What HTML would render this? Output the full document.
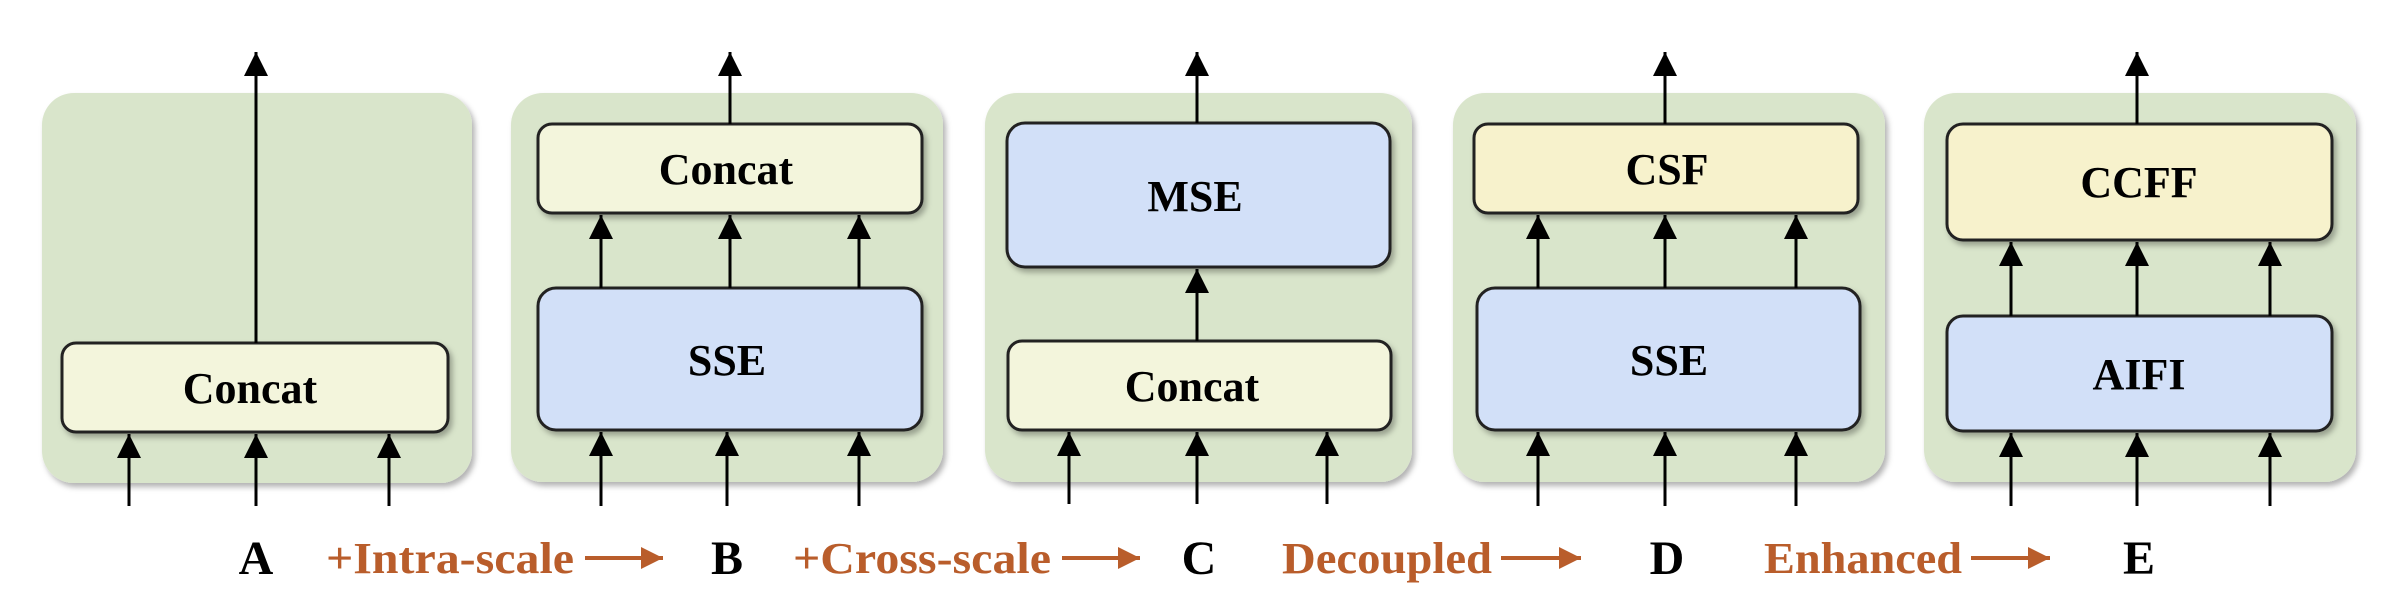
<!DOCTYPE html>
<html><head><meta charset="utf-8"><style>
html,body{margin:0;padding:0;background:#fff;width:2390px;height:608px;overflow:hidden}
text{font-family:"Liberation Serif",serif;font-weight:bold}
</style></head><body>
<svg width="2390" height="608" viewBox="0 0 2390 608" xmlns="http://www.w3.org/2000/svg">
<defs>
<marker id="ah" viewBox="0 0 10 10" refX="10" refY="5" markerWidth="24" markerHeight="24" markerUnits="userSpaceOnUse" orient="auto"><path d="M0,0 L10,5 L0,10 z" fill="#000"/></marker>
<marker id="oh" viewBox="0 0 10 10" refX="10" refY="5" markerWidth="22" markerHeight="22" markerUnits="userSpaceOnUse" orient="auto"><path d="M0,0 L10,5 L0,10 z" fill="#b95d2b"/></marker>
<filter id="sh" x="-10%" y="-10%" width="125%" height="125%"><feDropShadow dx="3" dy="4" stdDeviation="3" flood-color="#000" flood-opacity="0.3"/></filter>
</defs>
<g fill="#d9e5cb" filter="url(#sh)">
<rect x="42" y="93" width="430" height="390" rx="32"/>
<rect x="511" y="93" width="432" height="389" rx="32"/>
<rect x="985" y="93" width="427" height="389" rx="32"/>
<rect x="1453" y="93" width="432" height="389" rx="32"/>
<rect x="1924" y="93" width="432" height="389" rx="32"/>
</g>
<g stroke="#222" stroke-width="3" filter="url(#sh)">
<rect x="62" y="343" width="386" height="89" rx="14" fill="#f3f5dc"/>
<rect x="538" y="124" width="384" height="89" rx="14" fill="#f3f5dc"/>
<rect x="538" y="288" width="384" height="142" rx="18" fill="#d2e0f8"/>
<rect x="1007" y="123" width="383" height="144" rx="18" fill="#d2e0f8"/>
<rect x="1008" y="341" width="383" height="89" rx="14" fill="#f3f5dc"/>
<rect x="1474" y="124" width="384" height="89" rx="14" fill="#f7f2cc"/>
<rect x="1477" y="288" width="383" height="142" rx="18" fill="#d2e0f8"/>
<rect x="1947" y="124" width="385" height="116" rx="16" fill="#f7f2cc"/>
<rect x="1947" y="316" width="385" height="115" rx="16" fill="#d2e0f8"/>
</g>
<g stroke="#000" stroke-width="3" marker-end="url(#ah)">
<line x1="256" y1="343" x2="256" y2="52"/>
<line x1="129" y1="506" x2="129" y2="434"/><line x1="256" y1="506" x2="256" y2="434"/><line x1="389" y1="506" x2="389" y2="434"/>
<line x1="730" y1="124" x2="730" y2="52"/>
<line x1="601" y1="288" x2="601" y2="215"/><line x1="730" y1="288" x2="730" y2="215"/><line x1="859" y1="288" x2="859" y2="215"/>
<line x1="601" y1="506" x2="601" y2="432"/><line x1="727" y1="506" x2="727" y2="432"/><line x1="859" y1="506" x2="859" y2="432"/>
<line x1="1197" y1="123" x2="1197" y2="52"/>
<line x1="1197" y1="341" x2="1197" y2="269"/>
<line x1="1069" y1="504" x2="1069" y2="432"/><line x1="1197" y1="504" x2="1197" y2="432"/><line x1="1327" y1="504" x2="1327" y2="432"/>
<line x1="1665" y1="124" x2="1665" y2="52"/>
<line x1="1538" y1="288" x2="1538" y2="215"/><line x1="1665" y1="288" x2="1665" y2="215"/><line x1="1796" y1="288" x2="1796" y2="215"/>
<line x1="1538" y1="506" x2="1538" y2="432"/><line x1="1665" y1="506" x2="1665" y2="432"/><line x1="1796" y1="506" x2="1796" y2="432"/>
<line x1="2137" y1="124" x2="2137" y2="52"/>
<line x1="2011" y1="316" x2="2011" y2="242"/><line x1="2137" y1="316" x2="2137" y2="242"/><line x1="2270" y1="316" x2="2270" y2="242"/>
<line x1="2011" y1="506" x2="2011" y2="433"/><line x1="2137" y1="506" x2="2137" y2="433"/><line x1="2270" y1="506" x2="2270" y2="433"/>
</g>
<g font-size="44" text-anchor="middle" fill="#000">
<text x="250" y="403">Concat</text>
<text x="726" y="184">Concat</text>
<text x="727" y="375">SSE</text>
<text x="1195" y="211">MSE</text>
<text x="1192" y="401">Concat</text>
<text x="1667" y="184">CSF</text>
<text x="1669" y="375">SSE</text>
<text x="2139" y="197">CCFF</text>
<text x="2139" y="389">AIFI</text>
</g>
<g font-size="48" text-anchor="middle" fill="#000">
<text x="256" y="574">A</text>
<text x="727" y="574">B</text>
<text x="1199" y="574">C</text>
<text x="1667" y="574">D</text>
<text x="2139" y="574">E</text>
</g>
<g font-size="44" fill="#b95d2b">
<text x="326" y="573" textLength="248" lengthAdjust="spacingAndGlyphs">+Intra-scale</text>
<text x="793" y="573" textLength="258" lengthAdjust="spacingAndGlyphs">+Cross-scale</text>
<text x="1282" y="573" textLength="210" lengthAdjust="spacingAndGlyphs">Decoupled</text>
<text x="1764" y="573" textLength="198" lengthAdjust="spacingAndGlyphs">Enhanced</text>
</g>
<g stroke="#b95d2b" stroke-width="4" marker-end="url(#oh)">
<line x1="585" y1="558" x2="663" y2="558"/>
<line x1="1062" y1="558" x2="1140" y2="558"/>
<line x1="1501" y1="558" x2="1581" y2="558"/>
<line x1="1971" y1="558" x2="2050" y2="558"/>
</g>
</svg>
</body></html>
